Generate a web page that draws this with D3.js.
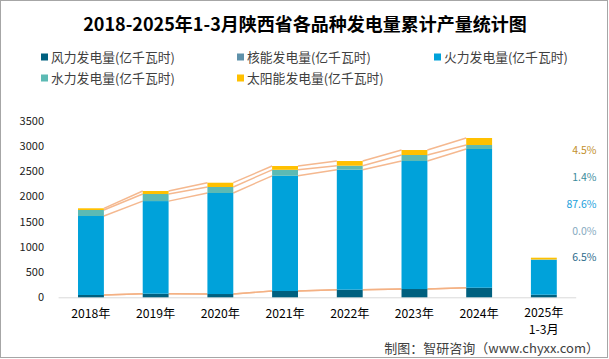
<!DOCTYPE html>
<html><head><meta charset="utf-8">
<script src="https://cdn.jsdelivr.net/npm/d3@7/dist/d3.min.js"></script>
<style>
html,body{margin:0;padding:0;background:#fff;}
svg{display:block;font-family:"Noto Sans CJK SC","Noto Sans",sans-serif;}
</style></head>
<body>
<svg id="c" width="609" height="359"></svg>
<script>
const title = "2018-2025年1-3月陕西省各品种发电量累计产量统计图";
const categories = ["2018年","2019年","2020年","2021年","2022年","2023年","2024年","2025年\n1-3月"];
const seriesNames = ["风力发电量(亿千瓦时)","核能发电量(亿千瓦时)","火力发电量(亿千瓦时)","水力发电量(亿千瓦时)","太阳能发电量(亿千瓦时)"];
const colors = ["#00607f","#5e91aa","#00a2da","#5cbab4","#ffc000"];
const wind    = [46, 71, 65, 125, 151, 164, 190, 51];
const nuclear = [0, 0, 0, 0, 0, 0, 0, 0];
const thermal = [1565, 1836, 2002, 2283, 2378, 2537, 2749, 688];
const hydro   = [119, 140, 119, 119, 79, 119, 79, 11];
const solar   = [34, 60, 85, 75, 93, 99, 139, 35];
const shares  = ["6.5%","0.0%","87.6%","1.4%","4.5%"];
const shareColors = ["#2b6a8a","#86a9c0","#1aa0dc","#3c8c9c","#c28f2c"];
const yTicks = [0,500,1000,1500,2000,2500,3000,3500];
const source = "制图：智研咨询（www.chyxx.com）";

const svg = d3.select("#c");
svg.append("rect").attr("x",0.5).attr("y",0.5).attr("width",607).attr("height",357)
  .attr("fill","#fff").attr("stroke","#a6a6a6");

svg.append("text").attr("x",305).attr("y",31).attr("text-anchor","middle")
  .attr("font-size",18).attr("font-weight","bold").attr("fill","#000").text(title);

// legend
const legPos = [[41,57],[237,57],[434,57],[41,78],[237,78]];
seriesNames.forEach((n,i)=>{
  const g = svg.append("g").attr("transform",`translate(${legPos[i][0]},${legPos[i][1]})`);
  g.append("rect").attr("x",0).attr("y",-3.5).attr("width",7).attr("height",7).attr("fill",colors[i]);
  g.append("text").attr("x",10).attr("y",0).attr("dy","0.36em").attr("font-size",12.8).attr("fill","#404040").text(n);
});

const x = d3.scaleBand().domain(categories).range([58.6,576.2]).padding(0);
const y = d3.scaleLinear().domain([0,3500]).range([297.3,120.7]);
const bw = x.bandwidth()*0.4;

const seriesData = [wind,nuclear,thermal,hydro,solar];
const table = categories.map((c,i)=>{ const o={cat:c}; seriesNames.forEach((s,k)=>o[s]=seriesData[k][i]); return o; });
const stack = d3.stack().keys(seriesNames)(table);

// y axis labels
const yAxis = d3.axisLeft(y).tickValues(yTicks).tickFormat(d3.format("d")).tickSize(0).tickPadding(0);
const ya = svg.append("g").attr("transform","translate(44,0)").call(yAxis);
ya.select(".domain").remove();
ya.selectAll("text").attr("font-size",11).attr("fill","#222").attr("font-family","'Noto Sans CJK SC',sans-serif");

// baseline
svg.append("line").attr("x1",x.range()[0]).attr("x2",x.range()[1]).attr("y1",y(0)+0.5).attr("y2",y(0)+0.5)
  .attr("stroke","#d9d9d9").attr("stroke-width",1);

// series lines
stack.forEach(layer=>{
  for(let i=0;i<6;i++){
    const a=layer[i], b=layer[i+1];
    const xc1 = x(categories[i])+x.bandwidth()/2 + bw/2;
    const xc2 = x(categories[i+1])+x.bandwidth()/2 - bw/2;
    svg.append("line").attr("x1",xc1).attr("x2",xc2).attr("y1",y(a[1])).attr("y2",y(b[1]))
      .attr("stroke","#f4b183").attr("stroke-width",1.4).attr("opacity",0.9);
  }
});

// bars
stack.forEach((layer,k)=>{
  svg.append("g").selectAll("rect").data(layer).join("rect")
    .attr("x",(d,i)=>x(categories[i])+x.bandwidth()/2-bw/2)
    .attr("width",bw)
    .attr("y",d=>y(d[1]))
    .attr("height",d=>y(d[0])-y(d[1]))
    .attr("fill",colors[k]);
});

// x labels
categories.forEach(c=>{
  const lines = c.split("\n");
  lines.forEach((l,j)=>svg.append("text").attr("x",x(c)+x.bandwidth()/2).attr("y",(lines.length>1?316.5:317.5)+j*17.8)
    .attr("text-anchor","middle").attr("font-size",12.2).attr("fill","#000").text(l));
});

// share labels
const py = d3.scalePoint().domain(d3.range(5).reverse()).range([150.7,257.7]);
shares.forEach((s,i)=>{
  svg.append("text").attr("x",596.5).attr("y",py(i)).attr("dy","0.36em").attr("text-anchor","end")
    .attr("font-size",10.5).attr("fill",shareColors[i]).text(s);
});

svg.append("text").attr("x",599).attr("y",353).attr("text-anchor","end")
  .attr("font-size",13).attr("fill","#404040").text(source);
</script>
</body></html>
